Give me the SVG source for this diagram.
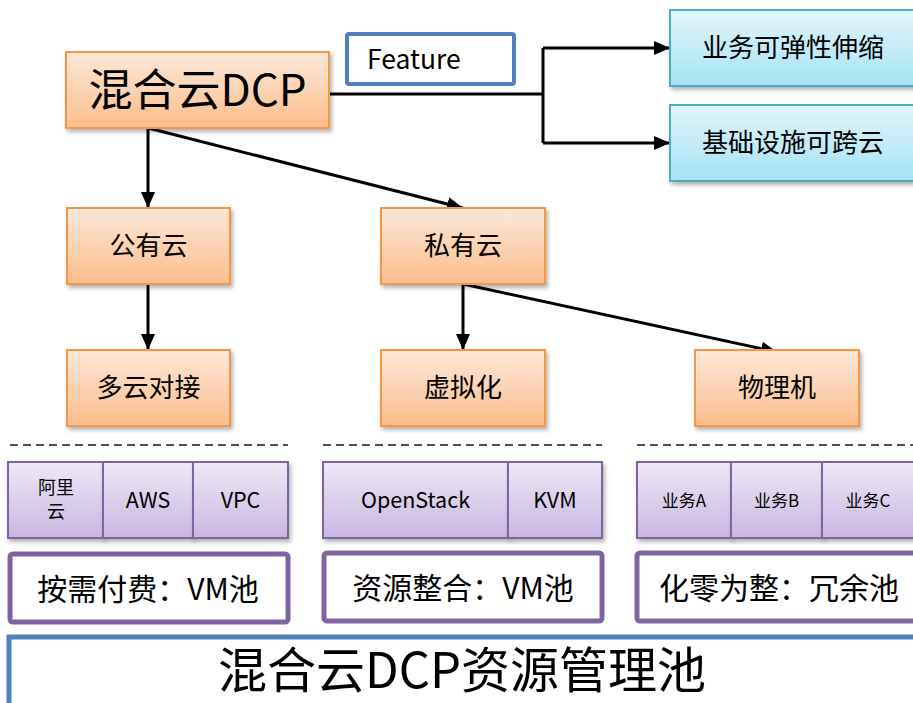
<svg xmlns="http://www.w3.org/2000/svg" width="913" height="703" viewBox="0 0 913 703">
  <defs>
    <linearGradient id="gOrange" x1="0" y1="0" x2="0" y2="1">
      <stop offset="0" stop-color="#fde8d8"/>
      <stop offset="1" stop-color="#fbbd8c"/>
    </linearGradient>
    <linearGradient id="gBlue" x1="0" y1="0" x2="0" y2="1">
      <stop offset="0" stop-color="#e2f5fc"/>
      <stop offset="1" stop-color="#a5e2f4"/>
    </linearGradient>
    <linearGradient id="gPurple" x1="0" y1="0" x2="0" y2="1">
      <stop offset="0" stop-color="#eee9f7"/>
      <stop offset="1" stop-color="#c8b6e2"/>
    </linearGradient>
    <filter id="shadow" x="-10%" y="-10%" width="130%" height="140%">
      <feDropShadow dx="2" dy="3" stdDeviation="2" flood-color="#000" flood-opacity="0.3"/>
    </filter>
    <marker id="arrow" markerUnits="userSpaceOnUse" markerWidth="16" markerHeight="14" refX="16" refY="7" orient="auto">
      <path d="M0,0 L16,7 L0,14 Z" fill="#000"/>
    </marker>
  </defs>
  <style>
    text { font-family: "Noto Sans CJK SC", "Noto Sans", sans-serif; fill: #000; }
    .orange { fill: url(#gOrange); stroke: #f79646; stroke-width: 2; filter: url(#shadow); }
    .blue { fill: url(#gBlue); stroke: #4bacc6; stroke-width: 2; filter: url(#shadow); }
    .purple { fill: url(#gPurple); stroke: #8064a2; stroke-width: 2; filter: url(#shadow); }
    .pool { fill: #fff; stroke: #8064a2; stroke-width: 5; }
    .wire { fill: none; stroke: #000; stroke-width: 3; }
    .dash { stroke: #505050; stroke-width: 2; stroke-dasharray: 8 5; }
    .mid { text-anchor: middle; }
  </style>

  <rect width="913" height="703" fill="#fff"/>

  <!-- connectors -->
  <g id="connectors">
    <path class="wire" d="M329,94 H543 M543,48 V143"/>
    <path class="wire" d="M543,48 H670" marker-end="url(#arrow)"/>
    <path class="wire" d="M543,143 H670" marker-end="url(#arrow)"/>
    <path class="wire" d="M148,128 V208" marker-end="url(#arrow)"/>
    <path class="wire" stroke-width="2.5" d="M148,128 L463,208" marker-end="url(#arrow)"/>
    <path class="wire" d="M148,284 V350" marker-end="url(#arrow)"/>
    <path class="wire" d="M463,284 V350" marker-end="url(#arrow)"/>
    <path class="wire" stroke-width="2.5" d="M463,284 L777,352" marker-end="url(#arrow)"/>
  </g>

  <!-- root -->
  <g id="root">
    <rect class="orange" x="66" y="52" width="263" height="76"/>
    <text class="mid" x="197.5" y="106" font-size="44">混合云DCP</text>
  </g>

  <g id="feature">
    <rect x="347" y="34" width="167" height="50" rx="2" fill="#fff" stroke="#4f81bd" stroke-width="4"/>
    <text x="367" y="69" font-size="26.5">Feature</text>
  </g>

  <g id="elastic">
    <rect class="blue" x="670" y="10" width="248" height="76"/>
    <text class="mid" x="793" y="57" font-size="26">业务可弹性伸缩</text>
  </g>
  <g id="crosscloud">
    <rect class="blue" x="670" y="105" width="248" height="76"/>
    <text class="mid" x="793" y="152" font-size="26">基础设施可跨云</text>
  </g>

  <g id="public">
    <rect class="orange" x="67" y="208" width="163" height="76"/>
    <text class="mid" x="148.5" y="255" font-size="26">公有云</text>
  </g>
  <g id="private">
    <rect class="orange" x="381" y="208" width="164" height="76"/>
    <text class="mid" x="463" y="255" font-size="26">私有云</text>
  </g>
  <g id="multicloud">
    <rect class="orange" x="67" y="350" width="163" height="76"/>
    <text class="mid" x="148.5" y="397" font-size="26">多云对接</text>
  </g>
  <g id="virtual">
    <rect class="orange" x="381" y="350" width="164" height="76"/>
    <text class="mid" x="463" y="397" font-size="26">虚拟化</text>
  </g>
  <g id="physical">
    <rect class="orange" x="695" y="350" width="164" height="76"/>
    <text class="mid" x="777" y="397" font-size="26">物理机</text>
  </g>

  <!-- separators -->
  <line class="dash" x1="10" y1="445" x2="288" y2="445"/>
  <line class="dash" x1="323" y1="445" x2="602" y2="445"/>
  <line class="dash" x1="637" y1="445" x2="913" y2="445"/>

  <!-- public cloud resources -->
  <g id="aliyun">
    <rect class="purple" x="8" y="462" width="95" height="76"/>
    <text class="mid" x="56" y="494" font-size="18">阿里</text>
    <text class="mid" x="56" y="518" font-size="18">云</text>
  </g>
  <g id="aws">
    <rect class="purple" x="103" y="462" width="90" height="76"/>
    <text class="mid" x="148" y="508" font-size="21.5">AWS</text>
  </g>
  <g id="vpc">
    <rect class="purple" x="193" y="462" width="95" height="76"/>
    <text class="mid" x="240.5" y="508" font-size="21.5">VPC</text>
  </g>

  <!-- private cloud resources -->
  <g id="openstack">
    <rect class="purple" x="323" y="462" width="185" height="76"/>
    <text class="mid" x="415.5" y="508" font-size="21.5">OpenStack</text>
  </g>
  <g id="kvm">
    <rect class="purple" x="508" y="462" width="94" height="76"/>
    <text class="mid" x="555" y="508" font-size="21.5">KVM</text>
  </g>

  <!-- physical resources -->
  <g id="biz-a">
    <rect class="purple" x="637" y="462" width="94" height="76"/>
    <text class="mid" x="684" y="507" font-size="17">业务A</text>
  </g>
  <g id="biz-b">
    <rect class="purple" x="731" y="462" width="91" height="76"/>
    <text class="mid" x="776.5" y="507" font-size="17">业务B</text>
  </g>
  <g id="biz-c">
    <rect class="purple" x="822" y="462" width="96" height="76"/>
    <text class="mid" x="868" y="507" font-size="17">业务C</text>
  </g>

  <!-- pools -->
  <g id="pool-public">
    <rect class="pool" x="10" y="554" width="278" height="68" rx="3"/>
    <text class="mid" x="148" y="600" font-size="30">按需付费：VM池</text>
  </g>
  <g id="pool-private">
    <rect class="pool" x="324" y="553" width="278" height="68" rx="3"/>
    <text class="mid" x="463" y="599" font-size="30">资源整合：VM池</text>
  </g>
  <g id="pool-physical">
    <rect class="pool" x="637" y="553" width="290" height="68" rx="3"/>
    <text x="659" y="599" font-size="30">化零为整：冗余池</text>
  </g>

  <!-- resource management pool -->
  <g id="resource-pool">
    <rect x="9" y="637" width="920" height="80" fill="#fff" stroke="#4f81bd" stroke-width="5"/>
    <text class="mid" x="462" y="688" font-size="49">混合云DCP资源管理池</text>
  </g>
</svg>
